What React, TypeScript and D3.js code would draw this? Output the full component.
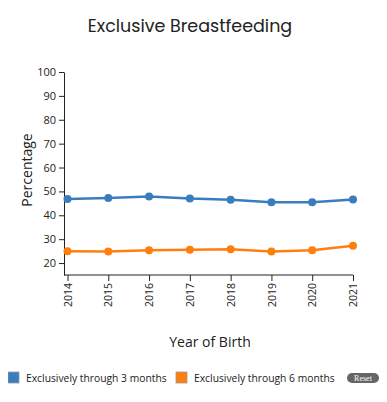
import React, { useRef, useEffect } from 'react';
import * as d3 from 'd3';

// chart values
const years = [2014, 2015, 2016, 2017, 2018, 2019, 2020, 2021];
const through3Months = [46.8, 47.2, 47.9, 47.0, 46.5, 45.5, 45.5, 46.6];
const through6Months = [24.9, 24.8, 25.4, 25.6, 25.8, 24.8, 25.4, 27.2];
const yTicks = [20, 30, 40, 50, 60, 70, 80, 90, 100];
const seriesNames = ['Exclusively through 3 months', 'Exclusively through 6 months'];
const seriesColors = ['#3a7dbf', '#ff7f0e'];

const font = '"Open Sans", "DejaVu Sans", sans-serif';

function App() {
  const svgRef = useRef<SVGSVGElement>(null);

  useEffect(() => {
    const width = 387;
    const height = 402;
    const svg = d3.select(svgRef.current)
      .attr('width', width)
      .attr('height', height)
      .style('background', '#fff');
    svg.selectAll('*').remove();

    const axisX = 64;
    const xScale = d3.scalePoint<number>()
      .domain(years)
      .range([67.5, 353]);

    const yScale = d3.scaleLinear()
      .domain([15, 100])
      .range([275, 72]);

    // title
    svg.append('text')
      .attr('x', 190)
      .attr('y', 32)
      .attr('text-anchor', 'middle')
      .style('font-family', 'Poppins, "Open Sans", sans-serif')
      .style('font-size', '17.5px')
      .style('fill', '#222')
      .text('Exclusive Breastfeeding');

    // y axis
    const yAxis = d3.axisLeft(yScale)
      .tickValues(yTicks)
      .tickSize(5)
      .tickSizeOuter(0);
    const gy = svg.append('g')
      .attr('transform', `translate(${axisX},0)`)
      .call(yAxis);
    gy.selectAll('text')
      .style('font-family', font)
      .style('font-size', '11px')
      .style('fill', '#222');
    gy.select('.domain').attr('stroke', '#222');
    gy.selectAll('.tick line').attr('stroke', '#222');

    // x axis
    const xAxis = d3.axisBottom(xScale)
      .tickSize(6)
      .tickSizeOuter(0);
    const gx = svg.append('g')
      .attr('transform', `translate(0,${yScale(15)})`)
      .call(xAxis);
    gx.select('.domain')
      .attr('d', `M${axisX},0H${xScale(2021)}`)
      .attr('stroke', '#222');
    gx.selectAll('.tick line').attr('stroke', '#222');
    gx.selectAll('text')
      .attr('transform', 'rotate(-90)')
      .attr('x', -8)
      .attr('y', 0)
      .attr('dy', '0.35em')
      .attr('text-anchor', 'end')
      .style('font-family', font)
      .style('font-size', '10.5px')
      .style('fill', '#222');

    // axis titles
    svg.append('text')
      .attr('transform', 'translate(32,170) rotate(-90)')
      .attr('text-anchor', 'middle')
      .style('font-family', font)
      .style('font-size', '14px')
      .style('fill', '#222')
      .text('Percentage');

    svg.append('text')
      .attr('x', 210)
      .attr('y', 347)
      .attr('text-anchor', 'middle')
      .style('font-family', font)
      .style('font-size', '14px')
      .style('fill', '#222')
      .text('Year of Birth');

    // lines and points
    const line = d3.line<number>()
      .x((d, i) => xScale(years[i]) as number)
      .y(d => yScale(d));

    [through3Months, through6Months].forEach((values, s) => {
      svg.append('path')
        .datum(values)
        .attr('d', line)
        .attr('fill', 'none')
        .attr('stroke', seriesColors[s])
        .attr('stroke-width', 2.5);
      svg.selectAll(`.dot${s}`)
        .data(values)
        .join('circle')
        .attr('class', `dot${s}`)
        .attr('cx', (d, i) => xScale(years[i]) as number)
        .attr('cy', d => yScale(d))
        .attr('r', 4)
        .attr('fill', seriesColors[s]);
    });

    // legend
    const legendX = [8, 176];
    seriesNames.forEach((name, i) => {
      const g = svg.append('g').attr('transform', `translate(${legendX[i]},372)`);
      g.append('rect')
        .attr('width', 11)
        .attr('height', 11)
        .attr('fill', seriesColors[i])
        .attr('stroke', '#999')
        .attr('stroke-width', 0.8);
      g.append('text')
        .attr('x', 18)
        .attr('y', 10)
        .style('font-family', font)
        .style('font-size', '10.3px')
        .style('fill', '#222')
        .text(name);
    });

    // reset button
    const reset = svg.append('g').attr('transform', 'translate(347,373)');
    reset.append('rect')
      .attr('width', 32)
      .attr('height', 10)
      .attr('rx', 5)
      .attr('fill', '#666');
    reset.append('text')
      .attr('x', 16)
      .attr('y', 8)
      .attr('text-anchor', 'middle')
      .style('font-family', 'serif')
      .style('font-size', '8px')
      .style('fill', '#fff')
      .text('Reset');
  }, []);

  return <svg ref={svgRef} style={{ display: 'block', margin: -8 }}></svg>;
}

export default App;
